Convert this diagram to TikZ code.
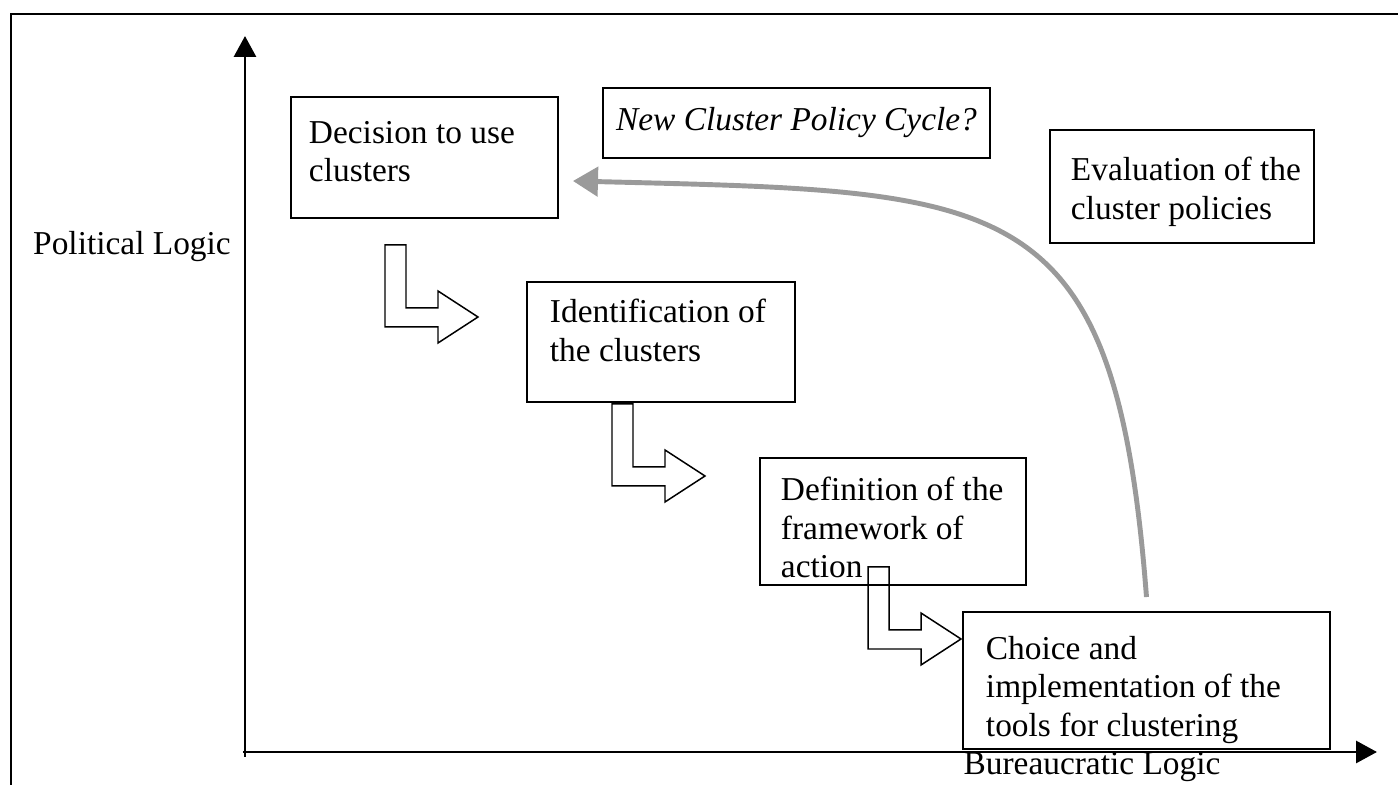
\documentclass[tikz,border=0pt]{standalone}
\usepackage{fontspec}
\setmainfont{Liberation Serif}
\usetikzlibrary{arrows.meta}
\definecolor{cyclegray}{HTML}{9A9A9A}

\begin{document}
\begin{tikzpicture}[font=\fontsize{19}{22}\selectfont,every node/.style={draw,line width=1.1pt,inner sep=0pt},every text node part/.style={align=left},axis/.style={line width=1.7pt,-{Triangle[length=0.42cm,width=0.44cm]}},turn/.style={line width=0.85pt}]
	\useasboundingbox (-4.9,-0.66) rectangle (23.06,15.04);
	\draw[line width=1.1pt] (-4.68,-1) -- (-4.68,14.76) -- (24,14.76);

	% axes
	\draw[axis] (0,-0.1) -- (0,14.32);
	\draw[axis] (-0.04,0) -- (22.64,0);
	\node[draw=none] (political) at (-2.26,10.1) {Political Logic};
	\node[draw=none] (bureau) at (16.94,-0.3) {Bureaucratic Logic};

	% stages
	\node[minimum width=5.34cm,minimum height=2.42cm] (decide) at (3.59,11.89) {};
	\node[minimum width=7.74cm,minimum height=1.4cm] (newcycle) at (11.03,12.58) {\itshape New Cluster Policy Cycle?};
	\node[minimum width=5.28cm,minimum height=2.26cm] (evaluate) at (18.74,11.31) {};
	\node[minimum width=5.36cm,minimum height=2.4cm] (identify) at (8.32,8.2) {};
	\node[minimum width=5.32cm,minimum height=2.54cm] (define) at (12.96,4.61) {};
	\node[minimum width=7.34cm,minimum height=2.74cm] (choose) at (18.03,1.43) {};

	\node[draw=none,anchor=north west] (decidetext) at (1.26,12.64) {Decision to use\\clusters};
	\node[draw=none,anchor=north west] (evaluatetext) at (16.5,11.92) {Evaluation of the\\cluster policies};
	\node[draw=none,anchor=north west] (identifytext) at (6.08,9.08) {Identification of\\the clusters};
	\node[draw=none,anchor=north west] (definetext) at (10.7,5.52) {Definition of the\\framework of\\action};
	\node[draw=none,anchor=north west] (choosetext) at (14.8,2.34) {Choice and\\implementation of the\\tools for clustering};

	% hollow turn arrows
	\foreach \x/\y in {2.8/10.14,7.34/6.96,12.46/3.7}
		\draw[turn] (\x,\y) -- ++(0.42,0) -- ++(0,-1.26) -- ++(0.64,0) -- ++(0,0.34) -- ++(0.8,-0.52) -- ++(-0.8,-0.52) -- ++(0,0.32) -- ++(-1.06,0) -- cycle;

	% back to the start
	\coordinate (loopstart) at ([yshift=0.28cm]choose.north);
	\coordinate (loopend) at ([shift={(0.28,-0.47)}]decide.east);
	\draw[cyclegray,line width=2.8pt,-{Triangle[length=0.5cm,width=0.58cm]}] (loopstart) .. controls (17.4,11.3) and (15.3,11.2) .. (loopend);
\end{tikzpicture}
\end{document}
